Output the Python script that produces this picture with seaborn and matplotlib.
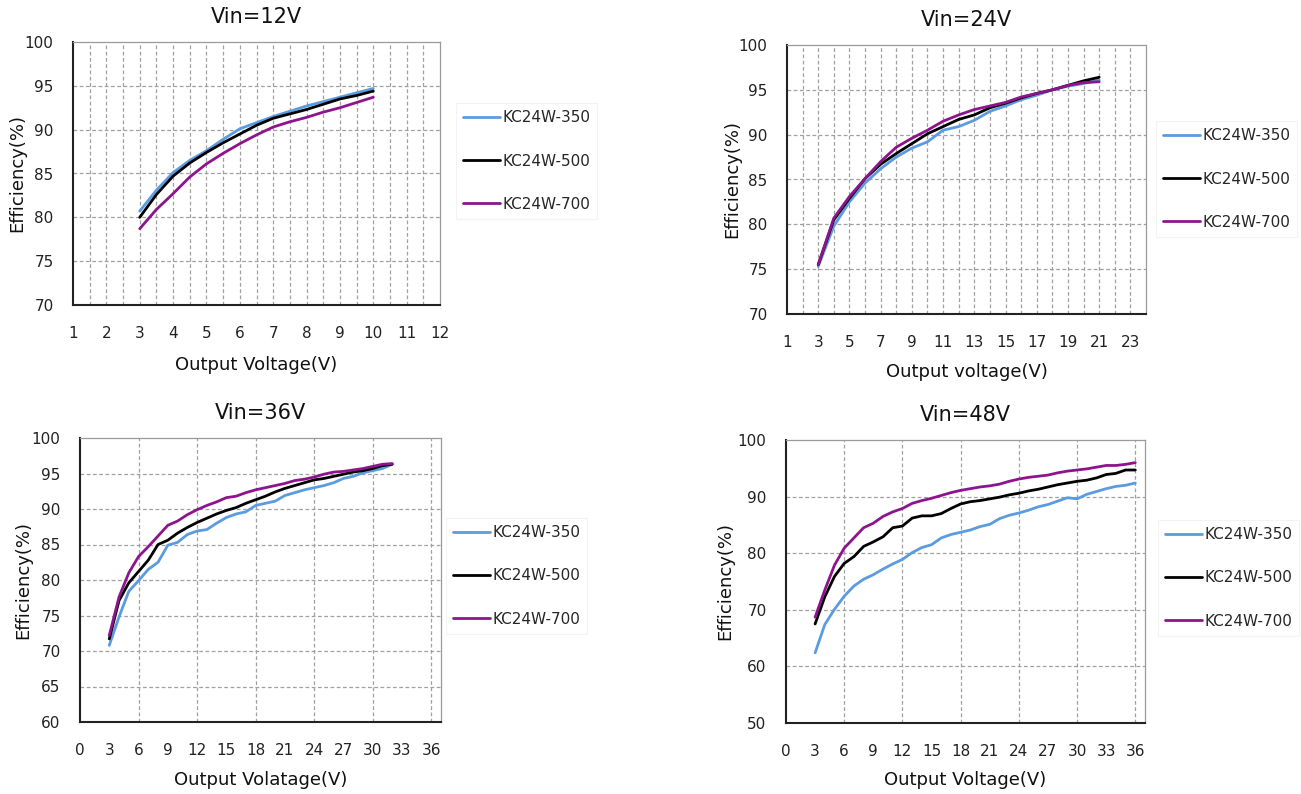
import numpy as np
import pandas as pd
import matplotlib
matplotlib.use("Agg")
import matplotlib.pyplot as plt
import seaborn as sns

models = ["KC24W-350", "KC24W-500", "KC24W-700"]
colors = ["#5b9be0", "#000000", "#8e148e"]

# Vin = 12V
v12 = [3, 3.5, 4, 4.5, 5, 5.5, 6, 6.5, 7, 7.5, 8, 8.5, 9, 9.5, 10]
e12_350 = [80.7, 83.1, 85.1, 86.5, 87.6, 88.9, 90.1, 90.8, 91.5, 92.1, 92.7, 93.2, 93.7, 94.2, 94.7]
e12_500 = [80.0, 82.6, 84.7, 86.2, 87.4, 88.5, 89.5, 90.5, 91.3, 91.8, 92.3, 92.9, 93.5, 93.9, 94.4]
e12_700 = [78.7, 80.9, 82.7, 84.6, 86.1, 87.3, 88.4, 89.4, 90.3, 90.9, 91.4, 92.0, 92.5, 93.1, 93.7]

# Vin = 24V
v24 = list(range(3, 22))
e24_350 = [75.3, 79.8, 82.5, 84.6, 86.2, 87.5, 88.5, 89.2, 90.5, 90.9, 91.6, 92.6, 93.2, 93.9, 94.4, 95.0, 95.4, 95.7, 96.1]
e24_500 = [75.5, 80.5, 82.9, 85.1, 86.7, 87.9, 89.0, 90.1, 90.9, 91.7, 92.2, 93.0, 93.5, 94.1, 94.6, 95.0, 95.5, 96.0, 96.4]
e24_700 = [75.5, 80.7, 83.1, 85.1, 87.0, 88.6, 89.6, 90.5, 91.5, 92.2, 92.8, 93.2, 93.6, 94.2, 94.6, 95.0, 95.5, 95.8, 95.9]

# Vin = 36V
v36 = list(range(3, 33))
e36_350 = [70.8, 74.8, 78.4, 79.9, 81.5, 82.5, 84.9, 85.3, 86.4, 86.9, 87.1, 88.0, 88.8, 89.3, 89.6,
           90.5, 90.8, 91.1, 91.9, 92.3, 92.7, 93.0, 93.3, 93.7, 94.3, 94.6, 95.1, 95.4, 95.7, 96.3]
e36_500 = [71.7, 77.1, 79.6, 81.2, 82.8, 85.0, 85.6, 86.6, 87.4, 88.1, 88.7, 89.3, 89.8, 90.2, 90.8,
           91.3, 91.8, 92.4, 92.9, 93.3, 93.7, 94.1, 94.3, 94.6, 94.9, 95.2, 95.4, 95.7, 96.1, 96.3]
e36_700 = [72.2, 77.6, 81.0, 83.3, 84.7, 86.2, 87.7, 88.3, 89.2, 89.9, 90.5, 91.0, 91.6, 91.8, 92.3,
           92.7, 93.0, 93.3, 93.6, 94.0, 94.2, 94.5, 94.9, 95.2, 95.3, 95.5, 95.7, 96.0, 96.3, 96.4]

# Vin = 48V
v48 = list(range(3, 37))
e48_350 = [62.4, 67.4, 70.1, 72.4, 74.2, 75.4, 76.2, 77.2, 78.1, 78.9, 80.1, 81.0, 81.5, 82.7, 83.3, 83.7, 84.1,
           84.7, 85.1, 86.1, 86.7, 87.1, 87.6, 88.2, 88.6, 89.2, 89.8, 89.6, 90.4, 90.9, 91.4, 91.8, 92.0, 92.4]
e48_500 = [67.5, 72.3, 75.9, 78.2, 79.4, 81.2, 82.0, 82.9, 84.5, 84.8, 86.2, 86.6, 86.6, 87.0, 87.9, 88.7, 89.1,
           89.3, 89.6, 89.9, 90.3, 90.6, 91.0, 91.3, 91.7, 92.1, 92.4, 92.7, 92.9, 93.3, 93.9, 94.1, 94.7, 94.7]
e48_700 = [68.7, 73.5, 77.9, 80.9, 82.7, 84.5, 85.3, 86.5, 87.3, 87.9, 88.8, 89.3, 89.7, 90.2, 90.7, 91.1, 91.4,
           91.7, 91.9, 92.2, 92.7, 93.1, 93.4, 93.6, 93.8, 94.2, 94.5, 94.7, 94.9, 95.2, 95.5, 95.5, 95.7, 96.0]

titles = ["Vin=12V", "Vin=24V", "Vin=36V", "Vin=48V"]
xlabels = ["Output Voltage(V)", "Output voltage(V)", "Output Volatage(V)", "Output Voltage(V)"]


def make_df(v, a, b, c):
    return pd.DataFrame({
        "V": list(v) * 3,
        "Eff": list(a) + list(b) + list(c),
        "Model": [models[0]] * len(v) + [models[1]] * len(v) + [models[2]] * len(v),
    })


dfs = [make_df(v12, e12_350, e12_500, e12_700),
       make_df(v24, e24_350, e24_500, e24_700),
       make_df(v36, e36_350, e36_500, e36_700),
       make_df(v48, e48_350, e48_500, e48_700)]

sns.set_style("white")
plt.rcParams["font.family"] = ["DejaVu Sans"]

W, H = 1301, 794
fig = plt.figure(figsize=(W / 100, H / 100), dpi=100)


def rect(l, r, t, b):
    return [l / W, 1 - b / H, (r - l) / W, (b - t) / H]


rects = [rect(73, 440, 42, 305), rect(787, 1146, 45, 314),
         rect(80, 441, 438, 722), rect(786, 1145, 440, 723)]
xlims = [(1, 12), (1, 24), (0, 37), (0, 37)]
xmaj = [1, 2, 3, 3]
xgrid = [0.5, 1, 6, 6]
xstart = [1, 1, 0, 0]
xend = [12, 23, 36, 36]
ylims = [(70, 100), (70, 100), (60, 100), (50, 100)]
ystep = [5, 5, 5, 10]
leg_anchor = [(456, 161), (1156, 179), (446, 576), (1158, 578)]
ylab_x = [26, 741, 32, 734]
xlab_top = [356, 363, 771, 771]
grid_kw = dict(color="#a0a0a0", linestyle=(0, (3, 2)), linewidth=0.9, zorder=0)

for i in range(4):
    ax = fig.add_axes(rects[i])
    sns.lineplot(data=dfs[i], x="V", y="Eff", hue="Model", hue_order=models,
                 palette=colors, linewidth=2.0, ax=ax, legend=True)
    ax.set_xlim(*xlims[i])
    ax.set_ylim(*ylims[i])
    ax.set_xticks(np.arange(xstart[i], xend[i] + 0.01, xmaj[i]))
    ax.set_yticks(np.arange(ylims[i][0], ylims[i][1] + 0.01, ystep[i]))
    ax.grid(False)
    for gx in np.arange(xlims[i][0] + xgrid[i] if i < 2 else xgrid[i], xlims[i][1] - 0.01, xgrid[i]):
        ax.axvline(gx, **grid_kw)
    for gy in np.arange(ylims[i][0] + ystep[i], ylims[i][1] - 0.01, ystep[i]):
        ax.axhline(gy, **grid_kw)
    ax.tick_params(axis="x", which="major", direction="in", length=3, width=1.2,
                   pad=15, labelsize=11, colors="#222222")
    ax.tick_params(axis="y", which="major", direction="in", length=4, width=1.2,
                   pad=14, labelsize=11, colors="#222222")
    for s in ["left", "bottom"]:
        ax.spines[s].set_color("#222222")
        ax.spines[s].set_linewidth(1.5)
    for s in ["top", "right"]:
        ax.spines[s].set_color("#9a9a9a")
        ax.spines[s].set_linewidth(0.9)
    ax.set_title(titles[i], fontsize=15, pad=14, color="#111111")
    ax.set_xlabel(xlabels[i], fontsize=13, color="#111111")
    ax.set_ylabel("Efficiency(%)", fontsize=13, color="#111111")
    bb = rects[i]
    l_px = bb[0] * W
    w_px = bb[2] * W
    b_px = H - bb[1] * H
    h_px = bb[3] * H
    ax.yaxis.set_label_coords((ylab_x[i] - l_px) / w_px, 0.5)
    ax.xaxis.set_label_coords(0.5, -(xlab_top[i] - b_px) / h_px)
    ax.get_legend().remove()
    handles, labels = ax.get_legend_handles_labels()
    a = leg_anchor[i]
    leg = fig.legend(handles, labels, loc="center left",
                     bbox_to_anchor=(a[0] / W, 1 - a[1] / H),
                     frameon=True, fontsize=11, handlelength=2.4,
                     handletextpad=0.2, labelspacing=1.85, borderpad=0.45,
                     borderaxespad=0, fancybox=False)
    leg.get_frame().set_edgecolor("#f0f0f0")
    leg.get_frame().set_linewidth(0.8)
    for line in leg.get_lines():
        line.set_linewidth(2.0)

fig.savefig("out.png", dpi=100, facecolor="white")
